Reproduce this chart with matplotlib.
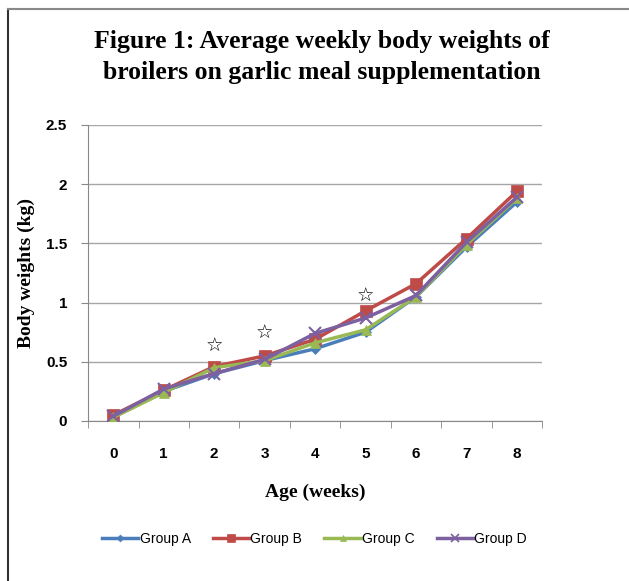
import matplotlib
matplotlib.use("Agg")
import matplotlib.pyplot as plt
from matplotlib.lines import Line2D
from matplotlib.ticker import FixedLocator

weeks = [0, 1, 2, 3, 4, 5, 6, 7, 8]
group_a = [0.04, 0.25, 0.40, 0.51, 0.61, 0.75, 1.05, 1.47, 1.85]
group_b = [0.05, 0.26, 0.46, 0.55, 0.69, 0.93, 1.16, 1.54, 1.94]
group_c = [0.03, 0.24, 0.45, 0.51, 0.66, 0.77, 1.05, 1.49, 1.88]
group_d = [0.04, 0.27, 0.40, 0.52, 0.74, 0.87, 1.06, 1.51, 1.89]
series_names = ["Group A", "Group B", "Group C", "Group D"]

# weeks where groups differ significantly, with the height of the star
star_weeks = [2, 3, 5]
star_heights = [0.63, 0.74, 1.05]

colors = ["#4A7EBB", "#BE4B48", "#98B954", "#7D60A0"]
markers = ["D", "s", "^", "x"]
msizes = [5, 8, 7, 8]

sans = ["Liberation Sans Narrow", "Liberation Sans", "DejaVu Sans"]
serif = "Liberation Serif"

fig = plt.figure(figsize=(6.29, 5.81), dpi=100)
ax = fig.add_axes([0.140, 0.2754, 0.722, 0.5095])

all_series = [group_a, group_b, group_c, group_d]
for vals, name, c, m, ms in zip(all_series, series_names, colors, markers, msizes):
    ax.plot(weeks, vals, color=c, lw=2.5, marker=m, markersize=ms,
            markeredgewidth=1.5 if m == "x" else 0.5, label=name, zorder=3)

for w, h in zip(star_weeks, star_heights):
    ax.text(w, h, "\u2606", ha="center", va="center", fontsize=14,
            family="DejaVu Sans", zorder=4)

ax.set_xlim(-0.5, 8.5)
ax.set_ylim(0, 2.5)
ax.set_yticks([0, 0.5, 1, 1.5, 2, 2.5])
ax.set_yticklabels(["0", "0.5", "1", "1.5", "2", "2.5"])
ax.set_xticks(weeks)
ax.xaxis.set_minor_locator(FixedLocator([i - 0.5 for i in range(10)]))
ax.tick_params(axis="x", which="major", length=0, pad=19)
ax.tick_params(axis="x", which="minor", length=5, color="#888888", direction="out")
ax.tick_params(axis="y", length=5, color="#888888", pad=10)
for lab in ax.get_xticklabels() + ax.get_yticklabels():
    lab.set_family(sans)
    lab.set_fontweight("bold")
    lab.set_fontsize(11)

ax.grid(axis="y", color="#A6A6A6", lw=1)
ax.set_axisbelow(True)
for side in ["top", "right"]:
    ax.spines[side].set_visible(False)
ax.spines["left"].set_color("#888888")
ax.spines["bottom"].set_color("#888888")

ax.set_xlabel("Age (weeks)", family=serif, fontweight="bold", fontsize=14, labelpad=16)
ax.set_ylabel("Body weights (kg)", family=serif, fontweight="bold", fontsize=14, labelpad=8)

fig.text(0.511, 0.902, "Figure 1: Average weekly body weights of\nbroilers on garlic meal supplementation",
         ha="center", va="center", family=serif, fontweight="bold", fontsize=18.5,
         linespacing=1.4)

handles = [Line2D([], [], color=c, lw=2.5, marker=m, markersize=ms * 0.7,
                  markeredgewidth=1.2 if m == "x" else 0.5)
           for c, m, ms in zip(colors, markers, msizes)]
fig.legend(handles, series_names, loc="center", bbox_to_anchor=(0.5, 0.072),
           ncol=4, frameon=False, prop={"family": sans, "size": 10},
           handlelength=2.6, handletextpad=0.1, columnspacing=1.6)

# outer frame, only the left and top edges fall inside the image
fig.add_artist(Line2D([8 / 629, 8 / 629], [0, 1 - 9 / 581], color="#333333", lw=1.5,
                      transform=fig.transFigure))
fig.add_artist(Line2D([8 / 629, 1], [1 - 9 / 581, 1 - 9 / 581], color="#888888", lw=1.5,
                      transform=fig.transFigure))

fig.savefig("out.png", dpi=100)
